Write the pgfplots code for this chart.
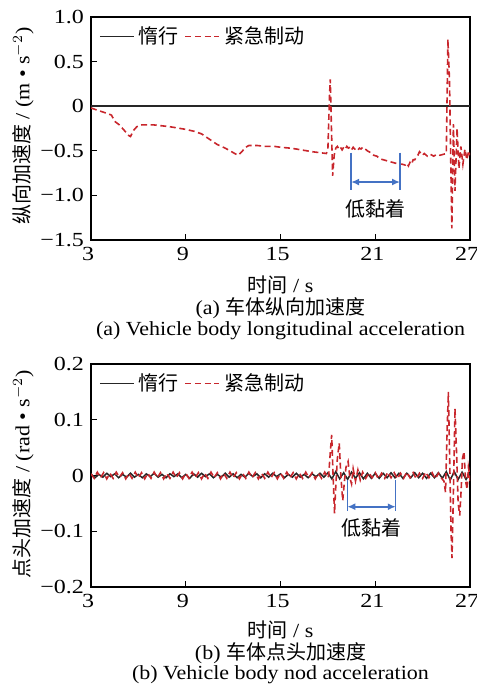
\documentclass[border=0pt]{standalone}
\usepackage{fontspec}
\setmainfont{Liberation Serif}[FakeStretch=1.1]
\newfontfamily\tickfont{Liberation Serif}[FakeStretch=1.2]
\newfontfamily\cjk{Noto Sans CJK SC}
\usepackage{pgfplots}
\pgfplotsset{compat=1.18}
\usetikzlibrary{arrows.meta}

\definecolor{brake}{RGB}{200,38,44}
\definecolor{annot}{RGB}{68,114,196}

\pgfplotsset{
  panel/.style={
    scale only axis, width=189.5pt, height=111.5pt,
    xmin=3, xmax=27, xtick={3,9,15,21,27}, xticklabels={3,9,15,21,27},
    tick align=inside, xtick pos=bottom, ytick pos=left,
    major tick length=3pt,
    axis line style={line width=0.7pt},
    tick style={line width=0.6pt, black},
    ticklabel style={font=\tickfont\fontsize{10}{12}\selectfont},
    xticklabel style={xshift=-1.5pt},
    legend style={at={(0.015,0.985)}, anchor=north west, draw=none, fill=none,
      font=\fontsize{10}{12}\selectfont\cjk, inner sep=1pt},
    legend columns=-1,
    legend image code/.code={\draw[#1] (0pt,0pt) -- (17pt,0pt);},
    /tikz/every even column/.append style={column sep=1pt},
  },
  coast/.style={black!85, line width=0.75pt},
  emerg/.style={brake, line width=0.8pt, dash pattern=on 3pt off 1.8pt},
}

\begin{document}
\begin{tikzpicture}
\path[use as bounding box] (0,0) rectangle (238.5pt,-343.5pt);

% ---------- (a) longitudinal acceleration
\begin{axis}[panel, at={(45.5pt,-8.5pt)}, anchor=north west,
  ymin=-1.5, ymax=1.0, ytick={-1.5,-1,-0.5,0,0.5,1},
  yticklabels={−1.5,−1.0,−0.5,0,0.5,1.0}]
\addplot[coast] coordinates {(3,0) (9,0) (15,0) (21,0) (27,0)};
\addlegendentry{惰行}
\addplot[emerg] coordinates {
(3.0,-0.02) (3.5,-0.05) (4.0,-0.08) (4.3,-0.10) (4.5,-0.17) (4.8,-0.21)
(5.1,-0.27) (5.4,-0.33) (5.5,-0.34) (5.7,-0.27) (5.9,-0.23) (6.2,-0.21)
(7.0,-0.21) (8.0,-0.23) (9.0,-0.26) (9.5,-0.28) (10.0,-0.31) (10.5,-0.37)
(11.0,-0.43) (11.5,-0.47) (12.0,-0.52) (12.3,-0.55) (12.5,-0.52) (12.8,-0.46)
(13.0,-0.44) (13.5,-0.44) (14.0,-0.45) (14.6,-0.45) (15.0,-0.46) (15.6,-0.47)
(16.0,-0.48) (17.0,-0.51) (17.9,-0.53) (18.0,-0.49) (18.1,0.10) (18.15,0.30)
(18.2,-0.05) (18.3,-0.78) (18.4,-0.55) (18.5,-0.47) (18.6,-0.45) (18.7,-0.48)
(18.8,-0.46) (18.9,-0.49) (19.0,-0.46) (19.1,-0.48) (19.2,-0.45) (19.3,-0.47)
(19.4,-0.46) (19.5,-0.49) (19.6,-0.46) (19.7,-0.48) (19.8,-0.47) (19.9,-0.49)
(20.0,-0.47) (20.1,-0.48) (20.2,-0.46) (20.3,-0.47) (20.5,-0.50) (20.7,-0.52)
(20.9,-0.55) (21.1,-0.56) (21.3,-0.59) (21.5,-0.60) (21.7,-0.61) (21.9,-0.62)
(22.1,-0.63) (22.3,-0.64) (22.5,-0.65) (22.7,-0.65) (22.9,-0.66) (23.0,-0.64)
(23.1,-0.67) (23.2,-0.63) (23.3,-0.65) (23.4,-0.60) (23.5,-0.60) (23.7,-0.55)
(23.8,-0.51) (23.9,-0.53) (24.0,-0.55) (24.1,-0.53) (24.3,-0.56) (24.5,-0.54)
(24.7,-0.56) (24.9,-0.54) (25.1,-0.55) (25.3,-0.54) (25.5,-0.53) (25.6,0.75)
(25.7,0.30) (25.85,-1.37) (25.95,-0.20) (26.05,-0.95) (26.18,-0.25) (26.3,-0.70)
(26.42,-0.45) (26.55,-0.65) (26.68,-0.48) (26.8,-0.60) (26.92,-0.50) (27.0,-0.55)};
\addlegendentry{紧急制动}
\draw[annot, line width=0.7pt] (axis cs:19.47,-0.52) -- (axis cs:19.47,-0.94);
\draw[annot, line width=0.7pt] (axis cs:22.57,-0.52) -- (axis cs:22.57,-0.94);
\draw[annot, line width=0.8pt, {Latex[length=4pt,width=3.5pt]}-{Latex[length=4pt,width=3.5pt]}]
  (axis cs:19.47,-0.85) -- (axis cs:22.57,-0.85);
\node[font=\fontsize{10}{12}\selectfont\cjk] at (axis cs:21.02,-1.15) {低黏着};
\end{axis}
\node[rotate=90, font=\fontsize{10}{12}\selectfont] at (11.5pt,-63pt)
  {{\cjk 纵向加速度} / (m • s$^{-2}$)};
\node[font=\fontsize{10}{12}\selectfont] at (140.25pt,-142.5pt) {{\cjk 时间} / s};
\node[font=\fontsize{10}{12}\selectfont] at (140.25pt,-154pt) {(a) {\cjk 车体纵向加速度}};
\node[font=\fontsize{10}{12}\selectfont] at (140.25pt,-165.5pt) {(a) Vehicle body longitudinal acceleration};

% ---------- (b) nod acceleration
\begin{axis}[panel, at={(45.5pt,-182pt)}, anchor=north west,
  ymin=-0.2, ymax=0.2, ytick={-0.2,-0.1,0,0.1,0.2},
  yticklabels={−0.2,−0.1,0,0.1,0.2}]
\addplot[coast] coordinates {
(3.00,0.003) (3.25,-0.004) (3.50,0.002) (3.75,-0.003) (4.00,0.004) (4.25,-0.002)
(4.50,0.003) (4.75,-0.004) (5.00,0.002) (5.25,-0.003) (5.50,0.004) (5.75,-0.003)
(6.00,0.002) (6.25,-0.004) (6.50,0.003) (6.75,-0.002) (7.00,0.004) (7.25,-0.003)
(7.50,0.002) (7.75,-0.004) (8.00,0.003) (8.25,-0.002) (8.50,0.003) (8.75,-0.004)
(9.00,0.002) (9.25,-0.005) (9.50,0.003) (9.75,-0.003) (10.00,0.004) (10.25,-0.002)
(10.50,0.003) (10.75,-0.004) (11.00,0.002) (11.25,-0.003) (11.50,0.004) (11.75,-0.003)
(12.00,0.003) (12.25,-0.004) (12.50,0.002) (12.75,-0.003) (13.00,0.004) (13.25,-0.002)
(13.50,0.003) (13.75,-0.004) (14.00,0.003) (14.25,-0.003) (14.50,0.004) (14.75,-0.002)
(15.00,0.003) (15.25,-0.004) (15.50,0.002) (15.75,-0.003) (16.00,0.004) (16.25,-0.003)
(16.50,0.002) (16.75,-0.004) (17.00,0.003) (17.25,-0.002) (17.50,0.004) (17.75,-0.003)
(18.00,0.005) (18.25,-0.006) (18.50,0.007) (18.75,-0.006) (19.00,0.005) (19.25,-0.007)
(19.50,0.006) (19.75,-0.005) (20.00,0.005) (20.25,-0.006) (20.50,0.004) (20.75,-0.005)
(21.00,0.004) (21.25,-0.005) (21.50,0.004) (21.75,-0.004) (22.00,0.005) (22.25,-0.004)
(22.50,0.004) (22.75,-0.005) (23.00,0.004) (23.25,-0.004) (23.50,0.005) (23.75,-0.004)
(24.00,0.004) (24.25,-0.005) (24.50,0.004) (24.75,-0.004) (25.00,0.005) (25.25,-0.005)
(25.50,0.007) (25.75,-0.008) (26.00,0.007) (26.25,-0.007) (26.50,0.006) (26.75,-0.007)
(27.00,0.005)};
\addlegendentry{惰行}
\addplot[emerg] coordinates {
(3.0,0.003) (3.2,-0.005) (3.4,0.006) (3.6,-0.004) (3.8,0.005) (4.0,-0.006)
(4.2,0.004) (4.4,-0.005) (4.6,0.006) (4.8,-0.003) (5.0,0.005) (5.2,-0.006)
(5.4,0.004) (5.6,-0.005) (5.8,0.006) (6.0,-0.004) (6.2,0.005) (6.4,-0.006)
(6.6,0.004) (6.8,-0.005) (7.0,0.006) (7.2,-0.004) (7.4,0.005) (7.6,-0.006)
(7.8,0.004) (8.0,-0.005) (8.2,0.006) (8.4,-0.004) (8.6,0.005) (8.8,-0.006)
(9.0,0.004) (9.2,-0.005) (9.4,0.006) (9.6,-0.004) (9.8,0.005) (10.0,-0.006)
(10.2,0.004) (10.4,-0.005) (10.6,0.006) (10.8,-0.004) (11.0,0.005) (11.2,-0.006)
(11.4,0.004) (11.6,-0.005) (11.8,0.006) (12.0,-0.004) (12.2,0.005) (12.4,-0.006)
(12.6,0.004) (12.8,-0.005) (13.0,0.006) (13.2,-0.004) (13.4,0.005) (13.6,-0.006)
(13.8,0.004) (14.0,-0.005) (14.2,0.006) (14.4,-0.004) (14.6,0.005) (14.8,-0.006)
(15.0,0.004) (15.2,-0.005) (15.4,0.006) (15.6,-0.004) (15.8,0.005) (16.0,-0.006)
(16.2,0.004) (16.4,-0.005) (16.6,0.006) (16.8,-0.004) (17.0,0.005) (17.2,-0.006)
(17.4,0.004) (17.6,-0.005) (17.8,0.006) (18.0,-0.004) (18.05,0.000) (18.15,0.040)
(18.24,0.073) (18.33,0.000) (18.42,-0.068) (18.50,-0.020) (18.60,0.030) (18.72,0.058)
(18.82,0.000) (18.94,-0.045) (19.05,-0.010) (19.15,0.015) (19.28,0.025) (19.40,-0.005)
(19.50,-0.015) (19.60,0.012) (19.75,-0.010) (19.90,0.010) (20.05,-0.008) (20.20,0.006)
(20.40,-0.005) (20.6,0.005) (20.8,-0.004) (21.0,0.005) (21.2,-0.006) (21.4,0.004)
(21.6,-0.005) (21.8,0.006) (22.0,-0.004) (22.2,0.005) (22.4,-0.006) (22.6,0.004)
(22.8,-0.005) (23.0,0.006) (23.2,-0.004) (23.4,0.005) (23.6,-0.006) (23.8,0.004)
(24.0,-0.005) (24.2,0.006) (24.4,-0.004) (24.6,0.005) (24.8,-0.006) (25.0,0.004)
(25.2,-0.005) (25.35,-0.010) (25.45,-0.030) (25.55,0.080) (25.63,0.150) (25.72,0.020)
(25.80,-0.100) (25.86,-0.148) (25.95,-0.030) (26.05,0.120) (26.15,0.040) (26.25,-0.050)
(26.35,-0.072) (26.45,-0.020) (26.52,0.030) (26.62,0.043) (26.72,-0.010) (26.82,-0.025)
(26.90,0.015) (26.96,0.005) (27.0,-0.010)};
\addlegendentry{紧急制动}
\draw[annot, line width=0.7pt] (axis cs:19.23,-0.008) -- (axis cs:19.23,-0.064);
\draw[annot, line width=0.7pt] (axis cs:22.30,-0.008) -- (axis cs:22.30,-0.064);
\draw[annot, line width=0.8pt, {Latex[length=4pt,width=3.5pt]}-{Latex[length=4pt,width=3.5pt]}]
  (axis cs:19.23,-0.056) -- (axis cs:22.30,-0.056);
\node[font=\fontsize{10}{12}\selectfont\cjk] at (axis cs:20.77,-0.094) {低黏着};
\end{axis}
\node[rotate=90, font=\fontsize{10}{12}\selectfont] at (11.5pt,-237pt)
  {{\cjk 点头加速度} / (rad • s$^{-2}$)};
\node[font=\fontsize{10}{12}\selectfont] at (140.25pt,-315pt) {{\cjk 时间} / s};
\node[font=\fontsize{10}{12}\selectfont] at (140.25pt,-326.5pt) {(b) {\cjk 车体点头加速度}};
\node[font=\fontsize{10}{12}\selectfont] at (140.25pt,-337.5pt) {(b) Vehicle body nod acceleration};
\end{tikzpicture}
\end{document}
